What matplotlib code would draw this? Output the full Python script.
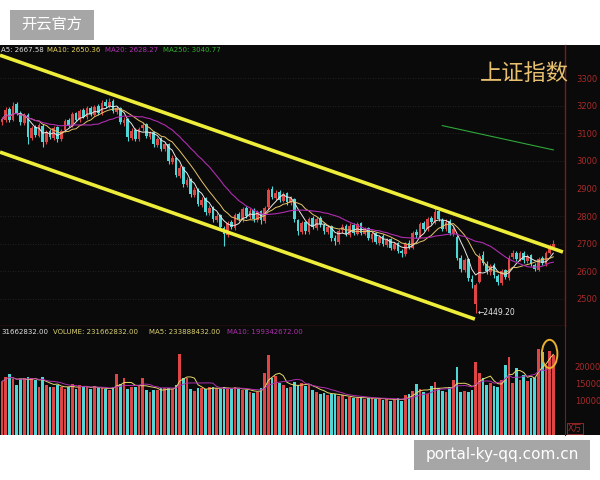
import matplotlib
matplotlib.use('Agg')
import matplotlib.pyplot as plt
from matplotlib.patches import Rectangle, Ellipse
import numpy as np
import pandas as pd

plt.rcParams['font.family'] = ['DejaVu Sans', 'Noto Sans CJK SC']

############################### data ##########################################
opens = [3140, 3148, 3188, 3148, 3205, 3172, 3138, 3168, 3082, 3124,
         3092, 3128, 3068, 3108, 3082, 3122, 3078, 3112, 3148, 3128,
         3172, 3148, 3184, 3158, 3192, 3168, 3198, 3172, 3214, 3198,
         3218, 3178, 3192, 3136, 3152, 3082, 3112, 3078, 3118, 3134,
         3088, 3104, 3058, 3082, 3042, 3062, 2996, 3012, 2946, 2978,
         2912, 2934, 2876, 2898, 2842, 2864, 2812, 2834, 2786, 2804,
         2758, 2732, 2778, 2756, 2808, 2786, 2828, 2796, 2824, 2786,
         2818, 2782, 2832, 2898, 2866, 2888, 2856, 2884, 2846, 2862,
         2786, 2742, 2778, 2742, 2794, 2756, 2794, 2768, 2742, 2764,
         2722, 2706, 2748, 2764, 2732, 2768, 2736, 2774, 2736, 2758,
         2716, 2738, 2702, 2728, 2696, 2718, 2682, 2704, 2672, 2662,
         2704, 2686, 2744, 2726, 2774, 2752, 2794, 2776, 2818, 2786,
         2752, 2784, 2736, 2725, 2648, 2606, 2644, 2572, 2480, 2560,
         2658, 2628, 2596, 2624, 2582, 2556, 2604, 2576, 2652, 2668,
         2642, 2668, 2636, 2658, 2622, 2606, 2648, 2626, 2668, 2688]
closes = [3150, 3185, 3150, 3200, 3175, 3140, 3165, 3085, 3120, 3095,
          3130, 3070, 3105, 3085, 3120, 3080, 3110, 3145, 3130, 3170,
          3150, 3180, 3160, 3190, 3170, 3195, 3175, 3210, 3200, 3215,
          3180, 3190, 3140, 3150, 3085, 3110, 3080, 3115, 3130, 3090,
          3100, 3060, 3080, 3045, 3060, 3000, 3010, 2950, 2975, 2915,
          2930, 2880, 2895, 2845, 2860, 2815, 2830, 2790, 2800, 2760,
          2735, 2775, 2760, 2805, 2790, 2825, 2800, 2820, 2790, 2815,
          2785, 2830, 2895, 2870, 2885, 2860, 2880, 2850, 2865, 2790,
          2745, 2775, 2745, 2790, 2760, 2790, 2770, 2745, 2760, 2720,
          2710, 2745, 2760, 2735, 2765, 2740, 2770, 2740, 2755, 2720,
          2735, 2705, 2725, 2700, 2715, 2685, 2700, 2675, 2665, 2700,
          2690, 2740, 2730, 2770, 2755, 2790, 2780, 2815, 2790, 2755,
          2780, 2740, 2755, 2650, 2610, 2640, 2575, 2560, 2550, 2654,
          2630, 2600, 2620, 2585, 2560, 2600, 2580, 2650, 2665, 2645,
          2665, 2640, 2655, 2625, 2610, 2645, 2630, 2665, 2690, 2700]
highs = [3160, 3195, 3196, 3212, 3214, 3180, 3172, 3174, 3128, 3130,
         3138, 3132, 3112, 3114, 3126, 3128, 3116, 3152, 3156, 3176,
         3178, 3188, 3190, 3198, 3198, 3204, 3206, 3222, 3226, 3228,
         3224, 3200, 3196, 3160, 3156, 3118, 3118, 3122, 3140, 3138,
         3110, 3108, 3088, 3086, 3068, 3066, 3020, 3016, 2984, 2982,
         2940, 2938, 2904, 2902, 2870, 2868, 2840, 2838, 2810, 2808,
         2764, 2782, 2786, 2812, 2816, 2832, 2836, 2828, 2830, 2822,
         2822, 2838, 2902, 2908, 2894, 2894, 2888, 2888, 2874, 2866,
         2790, 2782, 2784, 2798, 2800, 2798, 2800, 2774, 2768, 2768,
         2730, 2752, 2770, 2772, 2774, 2774, 2778, 2780, 2762, 2762,
         2742, 2742, 2732, 2734, 2722, 2722, 2706, 2708, 2680, 2706,
         2712, 2746, 2752, 2778, 2782, 2798, 2802, 2832, 2824, 2792,
         2788, 2790, 2764, 2730, 2660, 2648, 2648, 2585, 2558, 2665,
         2672, 2636, 2628, 2630, 2590, 2608, 2610, 2658, 2676, 2674,
         2672, 2674, 2662, 2664, 2630, 2652, 2656, 2672, 2698, 2712]
lows = [3130, 3142, 3142, 3144, 3168, 3130, 3130, 3060, 3076, 3086,
        3088, 3052, 3060, 3078, 3076, 3070, 3072, 3106, 3124, 3122,
        3144, 3142, 3154, 3152, 3164, 3162, 3168, 3166, 3192, 3192,
        3172, 3170, 3132, 3128, 3072, 3076, 3072, 3072, 3110, 3082,
        3080, 3052, 3050, 3036, 3036, 2990, 2988, 2940, 2938, 2905,
        2904, 2870, 2868, 2835, 2834, 2805, 2804, 2780, 2778, 2748,
        2692, 2726, 2752, 2750, 2782, 2780, 2792, 2790, 2780, 2780,
        2770, 2776, 2826, 2862, 2858, 2852, 2850, 2842, 2840, 2780,
        2732, 2736, 2736, 2736, 2752, 2750, 2762, 2736, 2734, 2710,
        2695, 2700, 2740, 2728, 2726, 2732, 2730, 2732, 2730, 2712,
        2708, 2698, 2696, 2692, 2690, 2678, 2676, 2668, 2652, 2656,
        2682, 2680, 2722, 2720, 2746, 2746, 2772, 2770, 2782, 2746,
        2746, 2732, 2728, 2640, 2598, 2598, 2566, 2540, 2449.2, 2556,
        2622, 2590, 2588, 2576, 2552, 2550, 2572, 2570, 2645, 2638,
        2636, 2632, 2630, 2618, 2600, 2600, 2622, 2620, 2662, 2680]
volumes = [15500, 16800, 17800, 16200, 14500, 16200, 16400, 16900, 16500, 16000,
           14000, 16800, 14500, 14000, 14000, 14500, 14000, 13300, 14000, 14800,
           13300, 14500, 13800, 14000, 13300, 14200, 13500, 13500, 13200, 13000,
           14000, 17600, 14900, 16500, 13200, 13800, 13800, 14300, 16400, 13000,
           12500, 13000, 13000, 13500, 13500, 13500, 13200, 14500, 23400, 16500,
           16500, 13300, 12800, 13600, 13500, 13200, 13800, 13800, 13600, 13300,
           14000, 13500, 13300, 13800, 13300, 13000, 13000, 12500, 12200, 12600,
           13500, 17900, 23200, 16400, 17000, 15000, 14500, 13500, 13800, 15500,
           14600, 15000, 14200, 14500, 13000, 12500, 12000, 12300, 11500, 11800,
           12000, 11200, 11500, 10500, 11000, 10800, 10800, 11000, 10500, 10700,
           10600, 10400, 10800, 10200, 10500, 10000, 10300, 10600, 10000, 11500,
           12000, 12800, 14700, 13200, 12500, 12000, 14200, 15500, 13500, 12800,
           12500, 14000, 16000, 19800, 12500, 12800, 12400, 13000, 21200, 18000,
           16500, 14500, 15200, 14200, 14000, 16000, 20300, 22700, 15000, 19400,
           16000, 17500, 15800, 16600, 16500, 24900, 24200, 20300, 24400, 23166]

# trend channel (bar index, price)
upper_idx = [-0.54, 151.6]
upper_px = [3383, 2670]
lower_idx = [-0.54, 127.8]
lower_px = [3032, 2427]
# MA250 visible piece
ma250_idx = [119, 149]
ma250_px = [3128, 3040]

price_ticks = [2500, 2600, 2700, 2800, 2900, 3000, 3100, 3200, 3300]
vol_ticks = [10000, 15000, 20000]
###############################################################################

BG = '#0a0a0a'
RED = '#e04545'
CYAN = '#4fd6d6'
AXRED = '#a82a2a'
W, H = 600, 480

def box(x0, y0, x1, y1):
    return [x0 / W, 1 - y1 / H, (x1 - x0) / W, (y1 - y0) / H]

def ftext(px, py, s, **kw):
    fig.text(px / W, 1 - py / H, s, **kw)

fig = plt.figure(figsize=(6, 4.8), dpi=100, facecolor='white')
fig.add_artist(Rectangle((0, 1 - 435 / H), 1, 390 / H, transform=fig.transFigure,
                         facecolor=BG, edgecolor='none', zorder=-5))

ax = fig.add_axes(box(0, 45, 565, 326))
axv = fig.add_axes(box(0, 326, 565, 435))

x = np.arange(len(closes))
o = np.array(opens, float)
c = np.array(closes, float)
h = np.maximum(np.array(highs, float), np.maximum(o, c))
l = np.minimum(np.array(lows, float), np.minimum(o, c))
col = np.where(c >= o, RED, CYAN)

###########################price panel#########################################
ax.set_facecolor(BG)
ax.vlines(x, l, h, colors=col, lw=0.8, zorder=2)
ax.bar(x, np.maximum(np.abs(c - o), 2.5), bottom=np.minimum(o, c), width=0.72,
       color=col, linewidth=0, zorder=3)
cs = pd.Series(c)
ax.plot(x, cs.rolling(5, min_periods=1).mean(), color='#e8e8e8', lw=0.7, zorder=4)
ax.plot(x, cs.rolling(10, min_periods=1).mean(), color='#e6c46a', lw=0.7, zorder=4)
ax.plot(x, cs.rolling(20, min_periods=1).mean(), color='#b02cb0', lw=0.8, zorder=4)
ax.plot(ma250_idx, ma250_px, color='#2fa83a', lw=0.8, zorder=4)
ax.plot(upper_idx, upper_px, color='#eded3a', lw=2.6, solid_capstyle='butt', zorder=5)
ax.plot(lower_idx, lower_px, color='#eded3a', lw=2.6, solid_capstyle='butt', zorder=5)
ax.text(128.5, 2449.2, '\u21902449.20', color='#e6e6e6',
        fontsize=5.5, va='center', ha='left', zorder=6)

ax.set_xlim(-0.54, 152.16)
ax.set_ylim(2402, 3420)
ax.set_xticks([])
ax.set_yticks(price_ticks)
ax.yaxis.tick_right()
ax.tick_params(axis='y', length=0, pad=8, labelsize=6, labelcolor=AXRED)
ax.grid(axis='y', color='#2a2a2a', ls=(0, (1, 2)), lw=0.6)
for s in ax.spines.values():
    s.set_visible(False)
for s in ('right', 'bottom'):
    ax.spines[s].set_visible(True)
    ax.spines[s].set_color('#7a1c1c')
    ax.spines[s].set_linewidth(1)

###########################volume panel########################################
axv.set_facecolor(BG)
axv.bar(x, volumes, width=0.72, color=col, linewidth=0, zorder=2)
vs = pd.Series(volumes, dtype=float)
axv.plot(x, vs.rolling(5, min_periods=1).mean(), color='#e6d86a', lw=0.7, zorder=3)
axv.plot(x, vs.rolling(10, min_periods=1).mean(), color='#b02cb0', lw=0.7, zorder=3)
axv.add_patch(Ellipse((148.0, 23500), 4.2, 8200, fill=False, edgecolor='#e8b030', lw=1.4, zorder=4))
axv.set_xlim(-0.54, 152.16)
axv.set_ylim(0, 31600)
axv.set_xticks([])
axv.set_yticks(vol_ticks)
axv.yaxis.tick_right()
axv.tick_params(axis='y', length=0, pad=7, labelsize=6, labelcolor=AXRED)
for s in axv.spines.values():
    s.set_visible(False)
axv.spines['right'].set_visible(True)
axv.spines['right'].set_color('#7a1c1c')
axv.text(1.005, 0.06, 'X万', transform=axv.transAxes, color=AXRED, fontsize=6,
         ha='left', va='center',
         bbox=dict(boxstyle='square,pad=0.15', fc=BG, ec=AXRED, lw=0.6))

###########################headers#############################################
ftext(1, 50, 'A5: 2667.58', color='#e0e0e0', fontsize=5, ha='left', va='center')
ftext(47, 50, 'MA10: 2650.36', color='#e6d25a', fontsize=5, ha='left', va='center')
ftext(105, 50, 'MA20: 2628.27', color='#b030b0', fontsize=5, ha='left', va='center')
ftext(163, 50, 'MA250: 3040.77', color='#30b030', fontsize=5, ha='left', va='center')
ftext(1, 332, '31662832.00', color='#e0e0e0', fontsize=5, ha='left', va='center')
ftext(53, 332, 'VOLUME: 231662832.00', color='#d8d070', fontsize=5, ha='left', va='center')
ftext(149, 332, 'MA5: 233888432.00', color='#d8d070', fontsize=5, ha='left', va='center')
ftext(227, 332, 'MA10: 199342672.00', color='#b030b0', fontsize=5, ha='left', va='center')
ftext(524, 73, '上证指数', color='#e8c070', fontsize=16, ha='center', va='center',
      family=['Noto Sans CJK SC', 'DejaVu Sans'])

###########################watermarks##########################################
fig.add_artist(Rectangle((10 / W, 1 - 40 / H), 84 / W, 30 / H, transform=fig.transFigure,
                         facecolor='#a6a6a6', edgecolor='none'))
ftext(52, 25.5, '开云官方', color='white', fontsize=11, ha='center', va='center',
      family=['Noto Sans CJK SC', 'DejaVu Sans'])
fig.add_artist(Rectangle((414 / W, 1 - 470 / H), 176 / W, 30 / H, transform=fig.transFigure,
                         facecolor='#a6a6a6', edgecolor='none'))
ftext(502, 455, 'portal-ky-qq.com.cn', color='white', fontsize=11, ha='center', va='center')

plt.savefig('out.png', dpi=100, facecolor='white')
